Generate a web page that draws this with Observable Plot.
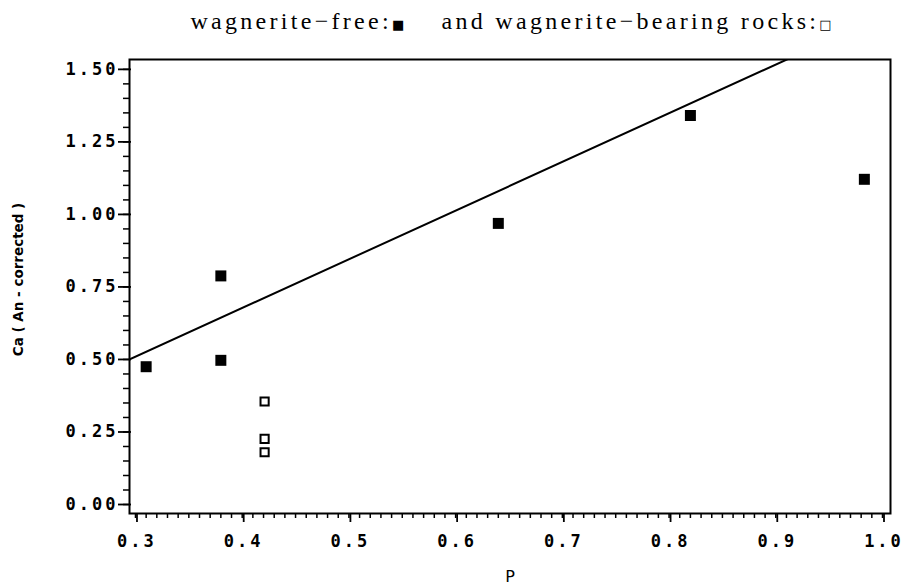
<!DOCTYPE html>
<html>
<head>
<meta charset="utf-8">
<script src="https://cdn.jsdelivr.net/npm/d3@7"></script>
<script src="https://cdn.jsdelivr.net/npm/@observablehq/plot@0.6"></script>
<style>
  body { margin: 0; background: #fff; }
  #wrap { position: relative; width: 903px; height: 586px; }
  #title { position: absolute; top: 0; left: 0; width: 903px; height: 40px; }
  #title span.t { position: absolute; left: 511px; top: 8px; transform: translateX(-50%);
    white-space: pre; font-family: "Liberation Serif", serif; font-size: 24px; letter-spacing: 3.3px; color: #000; }
  #title span.sq { font-family: "DejaVu Sans"; font-size: 13px; letter-spacing: 0; }
  #chart { position: absolute; top: 40px; left: 0; }
  g[aria-label="y-axis tick label"] text, g[aria-label="x-axis tick label"] text { letter-spacing: 3px; }
</style>
</head>
<body>
<div id="wrap">
  <div id="title"><span class="t">wagnerite−free:<span class="sq">■</span>    and wagnerite−bearing rocks:<span class="sq">□</span></span></div>
  <div id="chart"></div>
</div>
<script>
// Data
const freeP  = [0.310, 0.380, 0.380, 0.640, 0.820, 0.983];
const freeCa = [0.475, 0.788, 0.497, 0.969, 1.341, 1.121];
const bearP  = [0.421, 0.421, 0.421];
const bearCa = [0.355, 0.226, 0.180];
// fitted line endpoints (clipped to frame)
const fitP  = [0.29, 0.92];
const fitCa = [0.493, 1.550];
const xTicks = [0.3, 0.4, 0.5, 0.6, 0.7, 0.8, 0.9, 1.0];
const xTickLabels = ["0.3", "0.4", "0.5", "0.6", "0.7", "0.8", "0.9", "1.0"];
const yTicks = [0, 0.25, 0.5, 0.75, 1.0, 1.25, 1.5];
const yTickLabels = ["0.00", "0.25", "0.50", "0.75", "1.00", "1.25", "1.50"];
const xMinor = d3.range(30, 101).map(d => d / 100);
const yMinor = d3.range(0, 31).map(d => d * 0.05);

const free = freeP.map((p, i) => ({p, ca: freeCa[i]}));
const bear = bearP.map((p, i) => ({p, ca: bearCa[i]}));
const fit = fitP.map((p, i) => ({p, ca: fitCa[i]}));

const tickFont = {fontFamily: "DejaVu Sans Mono", fontWeight: "bold", fontSize: 17};

const chart = Plot.plot({
  width: 903,
  height: 546,
  marginTop: 19,
  marginBottom: 73,
  marginLeft: 129,
  marginRight: 13,
  x: {domain: [0.2944, 1.0075]},
  y: {domain: [-0.031, 1.534]},
  style: {background: "#fff", color: "#000"},
  marks: [
    Plot.axisX(xMinor, {tickSize: 5, text: null, label: null, strokeWidth: 1.5}),
    Plot.axisX(xTicks, {tickSize: 9, tickPadding: 12, strokeWidth: 1.8,
      tickFormat: (d, i) => xTickLabels[i], ...tickFont, label: null, dx: 1.5}),
    Plot.axisY(yMinor, {tickSize: 6, text: null, label: null, strokeWidth: 1.5}),
    Plot.axisY(yTicks, {tickSize: 13, tickPadding: 0, strokeWidth: 1.8,
      tickFormat: (d, i) => yTickLabels[i], ...tickFont, label: null, dx: 2}),
    Plot.frame({stroke: "#000", strokeWidth: 2}),
    Plot.line(fit, {x: "p", y: "ca", stroke: "#000", strokeWidth: 2, clip: true}),
    Plot.dot(free, {x: "p", y: "ca", symbol: "square", r: 6.2, fill: "#000", stroke: "none"}),
    Plot.dot(bear, {x: "p", y: "ca", symbol: "square", r: 4.6, fill: "#fff", stroke: "#000", strokeWidth: 2}),
    Plot.text(["Ca ( An - corrected )"], {frameAnchor: "left", textAnchor: "middle", dx: -111, dy: -7, rotate: -90,
      fontFamily: "DejaVu Sans", fontWeight: "bold", fontSize: 13.5, fill: "#000"}),
    Plot.text(["P"], {frameAnchor: "bottom", dy: 68, fontFamily: "DejaVu Sans", fontSize: 16, fill: "#000"})
  ]
});
document.getElementById("chart").appendChild(chart);
</script>
</body>
</html>
